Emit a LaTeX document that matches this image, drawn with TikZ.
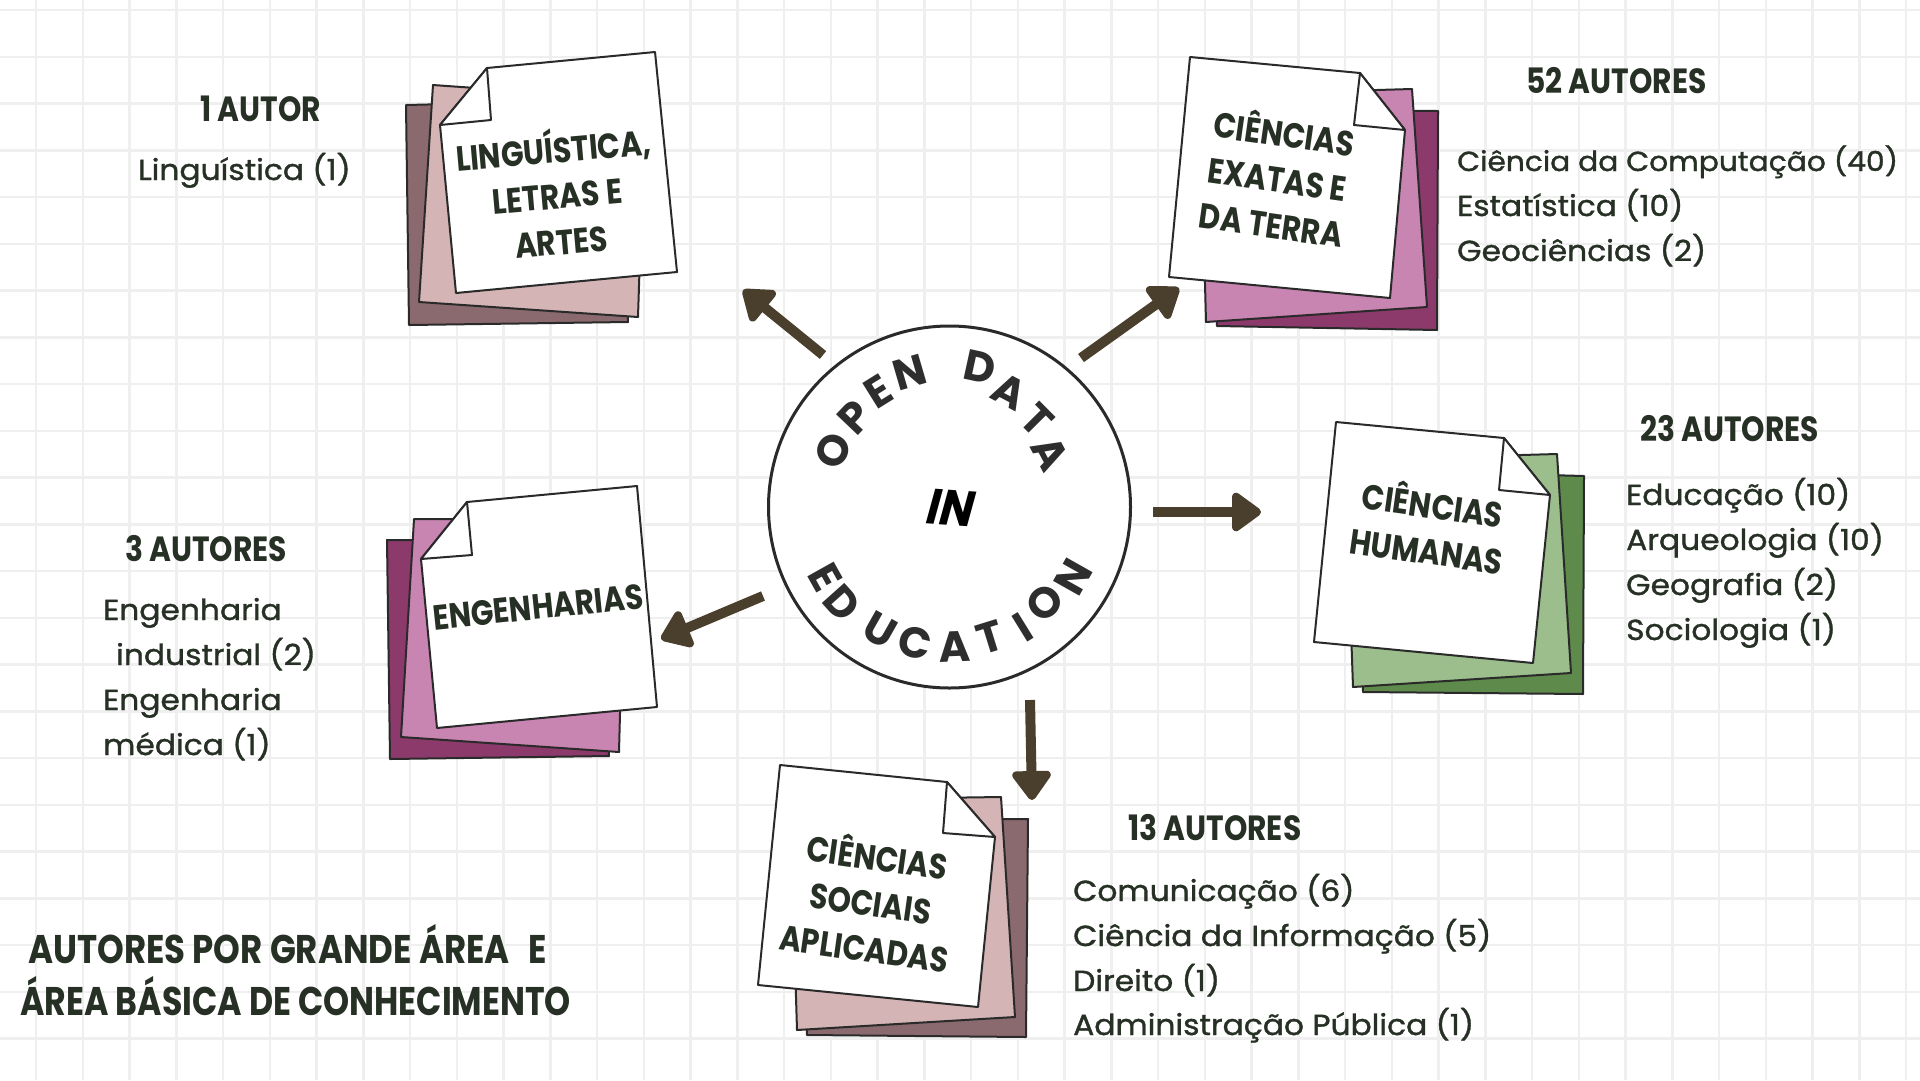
\documentclass[tikz,border=0pt]{standalone}
\usepackage{fontspec}
\setmainfont{Poppins}
\newfontfamily\bodyfont[FakeStretch=1.08,FakeBold=1.2]{Poppins}
\newfontfamily\headfont[FakeStretch=0.85]{Poppins}
\newfontfamily\narrowfont[FakeStretch=0.83]{Poppins}
\newfontfamily\ringfont{Poppins}
\newfontfamily\slantfont[FakeStretch=0.9,FakeSlant=0.2]{Poppins}
\usetikzlibrary{arrows.meta}
\definecolor{ink}{HTML}{263024}
\definecolor{ringink}{HTML}{2E2E2E}
\definecolor{gridc}{HTML}{EFEFEF}
\definecolor{arrowc}{HTML}{4A3E2C}
\definecolor{mauveD}{HTML}{8A6A6F}
\definecolor{mauveL}{HTML}{D4B4B5}
\definecolor{plumD}{HTML}{8C3A6C}
\definecolor{plumL}{HTML}{C885B2}
\definecolor{greenD}{HTML}{5E8A4C}
\definecolor{greenL}{HTML}{9CBE8C}
\definecolor{edgec}{HTML}{2A2A2A}
\tikzset{
  gridline/.style={draw=gridc, line width=2.5pt},
  sheet/.style={draw=edgec, line width=2pt, line join=round},
  bodytxt/.style={font=\bodyfont\fontsize{29}{34}\selectfont, text=ink, inner sep=0pt, anchor=base west},
  headtxt/.style={font=\headfont\bfseries\fontsize{35}{40}\selectfont, text=ink, inner sep=0pt, anchor=base west},
  titletxt/.style={font=\headfont\bfseries\fontsize{40}{48}\selectfont, text=ink, inner sep=0pt, anchor=base west},
  titlenarrow/.style={font=\narrowfont\bfseries\fontsize{40}{48}\selectfont, text=ink, inner sep=0pt, anchor=base west},
  notetxt/.style={font=\headfont\bfseries\fontsize{35}{46}\selectfont, text=ink, align=center, inner sep=0pt},
  ring/.style={font=\ringfont\bfseries\fontsize{43}{43}\selectfont, text=ringink, inner sep=0pt},
  arr/.style={draw=arrowc, line width=10pt, -{Triangle[length=32pt,width=44pt,round]}}
}
\begin{document}
\begin{tikzpicture}[x=1pt,y=-1pt]
\useasboundingbox (0,0) rectangle (1920,1080);
\fill[white] (0,0) rectangle (1920,1080);
% grid
\foreach \i in {0,...,40} \draw[gridline] ({36+\i*46.75},0) -- ({36+\i*46.75},1080);
\foreach \j in {0,...,22} \draw[gridline] (0,{10+\j*46.75}) -- (1920,{10+\j*46.75});

% ---- stack 1: Linguistica
\filldraw[sheet, fill=mauveD] (406,105) -- (620,100) -- (628,322) -- (409,325) -- cycle;
\filldraw[sheet, fill=mauveL] (433,85) -- (645,100) -- (638,317) -- (419,302) -- cycle;
\filldraw[sheet, fill=white] (487,68) -- (655,52) -- (677,272) -- (456,293) -- (440,125) -- cycle;
\filldraw[sheet, fill=white] (487,68) -- (491,120) -- (440,125) -- cycle;
\node[notetxt, rotate=5] (n1) at (557,192) {LINGUÍSTICA,\\LETRAS E\\ARTES};

% ---- stack 2: Exatas
\filldraw[sheet, fill=plumD] (1210,110) -- (1438,111) -- (1437,330) -- (1217,326) -- cycle;
\filldraw[sheet, fill=plumL] (1200,95) -- (1412,89) -- (1427,307) -- (1206,322) -- cycle;
\filldraw[sheet, fill=white] (1190,57) -- (1360,73) -- (1405,130) -- (1390,298) -- (1169,277) -- cycle;
\filldraw[sheet, fill=white] (1360,73) -- (1354,125) -- (1405,130) -- cycle;
\node[notetxt, rotate=-8] (n2) at (1278,176) {CIÊNCIAS\\EXATAS E\\DA TERRA};

% ---- stack 3: Humanas
\filldraw[sheet, fill=greenD] (1360,470) -- (1584,476) -- (1583,694) -- (1363,692) -- cycle;
\filldraw[sheet, fill=greenL] (1345,460) -- (1557,454) -- (1571,673) -- (1353,687) -- cycle;
\filldraw[sheet, fill=white] (1336,422) -- (1504,438) -- (1550,495) -- (1533,663) -- (1314,642) -- cycle;
\filldraw[sheet, fill=white] (1504,438) -- (1499,490) -- (1550,495) -- cycle;
\node[notetxt, rotate=-8] (n3) at (1430,525) {CIÊNCIAS\\HUMANAS};

% ---- stack 4: Engenharias
\filldraw[sheet, fill=plumD] (387,540) -- (600,540) -- (609,756) -- (390,759) -- cycle;
\filldraw[sheet, fill=plumL] (414,519) -- (625,520) -- (619,752) -- (401,737) -- cycle;
\filldraw[sheet, fill=white] (467,502) -- (637,486) -- (657,707) -- (437,728) -- (421,559) -- cycle;
\filldraw[sheet, fill=white] (467,502) -- (472,555) -- (421,559) -- cycle;
\node[notetxt, rotate=6] (n4) at (538,607) {ENGENHARIAS};

% ---- stack 5: Sociais
\filldraw[sheet, fill=mauveD] (800,820) -- (1028,819) -- (1026,1037) -- (807,1035) -- cycle;
\filldraw[sheet, fill=mauveL] (790,800) -- (1001,797) -- (1015,1017) -- (797,1030) -- cycle;
\filldraw[sheet, fill=white] (780,765) -- (947,782) -- (995,837) -- (978,1007) -- (758,985) -- cycle;
\filldraw[sheet, fill=white] (947,782) -- (943,833) -- (995,837) -- cycle;
\node[notetxt, rotate=-8] (n5) at (871,900) {CIÊNCIAS\\SOCIAIS\\APLICADAS};

% ---- hub
\node[circle, draw=edgec, line width=3pt, fill=white, minimum size=362pt, inner sep=0pt] (hub) at (949.5,507) {};
\foreach \ch/\px/\py/\r [count=\k] in {O/833/451/64.3, P/855/417/46.4, E/878/392/31.9, N/910/372/16.3, D/980/367/-12.3, A/1010/392/-27.8, T/1037/420/-45.2, A/1050/453/-61.8}
  \node[ring, rotate=\r] (rt\k) at (\px,\py) {\ch};
\foreach \ch/\px/\py/\r [count=\k] in {E/825/577/-60.8, D/842/603/-48.2, U/880/630/-29.5, C/915/643/-14.2, A/955/647/2.3, T/990/637/17.3, I/1023/627/31.7, O/1045/603/44.8, N/1073/577/60.6}
  \node[ring, rotate=\r] (rb\k) at (\px,\py) {\ch};
\node[font=\slantfont\bfseries\fontsize{50}{50}\selectfont, text=black, inner sep=0pt, rotate=-4] (in) at (948,508) {IN};

% ---- arrows
\coordinate (a1s) at (823,355); \coordinate (a1e) at (743,290);
\coordinate (a2s) at (1081,358); \coordinate (a2e) at (1179,288);
\coordinate (a3s) at (1153,512); \coordinate (a3e) at (1261,512);
\coordinate (a4s) at (763,596); \coordinate (a4e) at (661,639);
\coordinate (a5s) at (1030,700); \coordinate (a5e) at (1032,800);
\draw[arr] (a1s) -- (a1e);
\draw[arr] (a2s) -- (a2e);
\draw[arr] (a3s) -- (a3e);
\draw[arr] (a4s) -- (a4e);
\draw[arr] (a5s) -- (a5e);

% ---- labels
\node[headtxt] (h1) at (200,121) {1 AUTOR};
\node[bodytxt] (b1) at (138,180) {Linguística (1)};

\node[headtxt] (h2) at (1526,93) {52 AUTORES};
\node[bodytxt, font=\bodyfont\fontsize{27.5}{34}\selectfont] (b2a) at (1457,171) {Ciência da Computação (40)};
\node[bodytxt] (b2b) at (1457,216) {Estatística (10)};
\node[bodytxt] (b2c) at (1457,261) {Geociências (2)};

\node[headtxt] (h3) at (1640,441) {23 AUTORES};
\node[bodytxt] (b3a) at (1626,505) {Educação (10)};
\node[bodytxt] (b3b) at (1626,550) {Arqueologia (10)};
\node[bodytxt] (b3c) at (1626,595) {Geografia (2)};
\node[bodytxt] (b3d) at (1626,640) {Sociologia (1)};

\node[headtxt] (h4) at (125,561) {3 AUTORES};
\node[bodytxt] (b4a) at (103,620) {Engenharia};
\node[bodytxt] (b4b) at (116,665) {industrial (2)};
\node[bodytxt] (b4c) at (103,710) {Engenharia};
\node[bodytxt] (b4d) at (103,755) {médica (1)};

\node[headtxt] (h5) at (1128,840) {13 AUTORES};
\node[bodytxt] (b5a) at (1073,901) {Comunicação (6)};
\node[bodytxt] (b5b) at (1073,946) {Ciência da Informação (5)};
\node[bodytxt] (b5c) at (1073,991) {Direito (1)};
\node[bodytxt] (b5d) at (1073,1035) {Administração Pública (1)};

\node[titletxt] (t1) at (28,963) {AUTORES POR GRANDE ÁREA\hspace{12pt} E};
\node[titlenarrow] (t2) at (20,1015) {ÁREA BÁSICA DE CONHECIMENTO};
\end{tikzpicture}
\end{document}
